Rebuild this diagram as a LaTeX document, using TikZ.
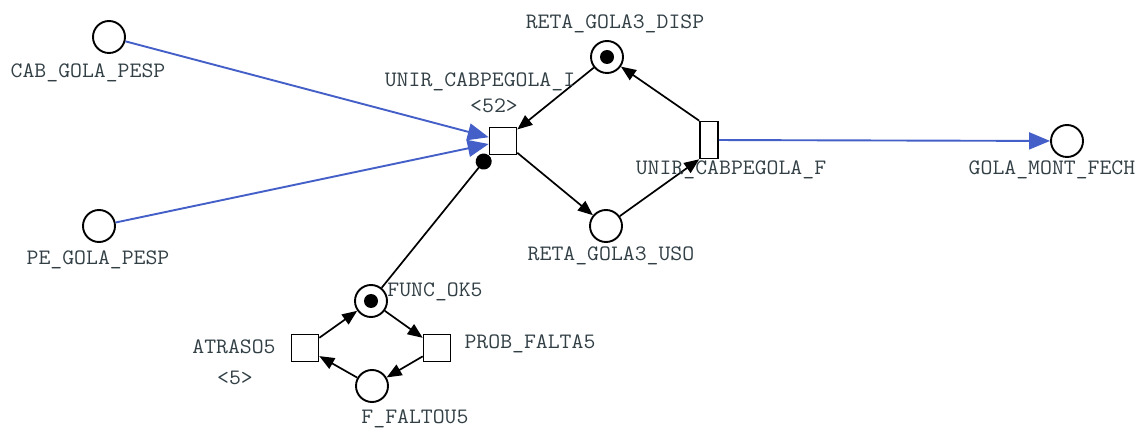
\documentclass[tikz,border=0pt]{standalone}
\usepackage{fontspec}
\usetikzlibrary{arrows.meta}
\definecolor{arcblue}{RGB}{68,96,200}
\definecolor{txt}{RGB}{50,64,70}
\newcommand{\wide}[1]{\scalebox{1.05}[1]{#1}}
\tikzset{
  place/.style={draw=black, line width=1.9pt, circle, minimum size=32pt, inner sep=0pt, fill=white},
  tokened/.style={path picture={\fill[black] (path picture bounding box.center) circle (7pt);}},
  trans/.style={draw=black, line width=1.6pt, rectangle, minimum width=27pt, minimum height=27pt, inner sep=0pt, fill=white},
  narrowtrans/.style={trans, minimum width=18pt, minimum height=37pt},
  lbl/.style={text=txt, font=\ttfamily\fontsize{22}{24}\selectfont, inner sep=1pt},
  barc/.style={draw=black, line width=1.7pt, -{Triangle[length=15pt,width=12pt]}},
  bluearc/.style={draw=arcblue, line width=1.9pt, -{Triangle[length=21pt,width=17pt]}},
  testarc/.style={draw=black, line width=1.7pt, -{Circle[length=16pt]}},
}
\begin{document}
\begin{tikzpicture}[x=1pt,y=-1pt]
\useasboundingbox[fill=white] (0,0) rectangle (1146,430);
% places
\node[place] (cab) at (109,37) {};
\node[place] (pe) at (99,226) {};
\node[place,tokened] (disp) at (607,57) {};
\node[place] (uso) at (606,226) {};
\node[place] (gola) at (1067,141) {};
\node[place,tokened] (func) at (371,301) {};
\node[place] (falt) at (372,386) {};
% transitions
\node[trans] (ui) at (503,141) {};
\node[narrowtrans] (uf) at (709,140) {};
\node[trans] (atr) at (305,348) {};
\node[trans] (prob) at (437,348) {};
% arcs
\draw[bluearc] (cab) -- (ui);
\draw[bluearc] (pe) -- (ui);
\draw[bluearc] (uf) -- (gola);
\draw[barc] (disp) -- (ui);
\draw[barc] (ui) -- (uso);
\draw[barc] (uso) -- (uf.south west);
\draw[barc] (uf.north west) -- (disp);
\draw[testarc] (func) -- (ui.south west);
\draw[barc] (atr) -- (func);
\draw[barc] (func) -- (prob);
\draw[barc] (prob) -- (falt);
\draw[barc] (falt) -- (atr);
% labels
\node[lbl] (lcab) at (88,73) {\wide{CAB\_GOLA\_PESP}};
\node[lbl] (lpe) at (98,260) {\wide{PE\_GOLA\_PESP}};
\node[lbl] (ldisp) at (615,24) {\wide{RETA\_GOLA3\_DISP}};
\node[lbl] (lui) at (480,82) {\wide{UNIR\_CABPEGOLA\_I}};
\node[lbl] (lui2) at (494,106) {\wide{<52>}};
\node[lbl] (luf) at (731,170) {\wide{UNIR\_CABPEGOLA\_F}};
\node[lbl] (lgola) at (1052,170) {\wide{GOLA\_MONT\_FECH}};
\node[lbl] (luso) at (611,256) {\wide{RETA\_GOLA3\_USO}};
\node[lbl] (lfunc) at (435,292) {\wide{FUNC\_OK5}};
\node[lbl] (latr) at (234,347) {\wide{ATRASO5}};
\node[lbl] (latr2) at (235,378) {\wide{<5>}};
\node[lbl] (lprob) at (530,344) {\wide{PROB\_FALTA5}};
\node[lbl] (lfalt) at (415,419) {\wide{F\_FALTOU5}};
\end{tikzpicture}
\end{document}
